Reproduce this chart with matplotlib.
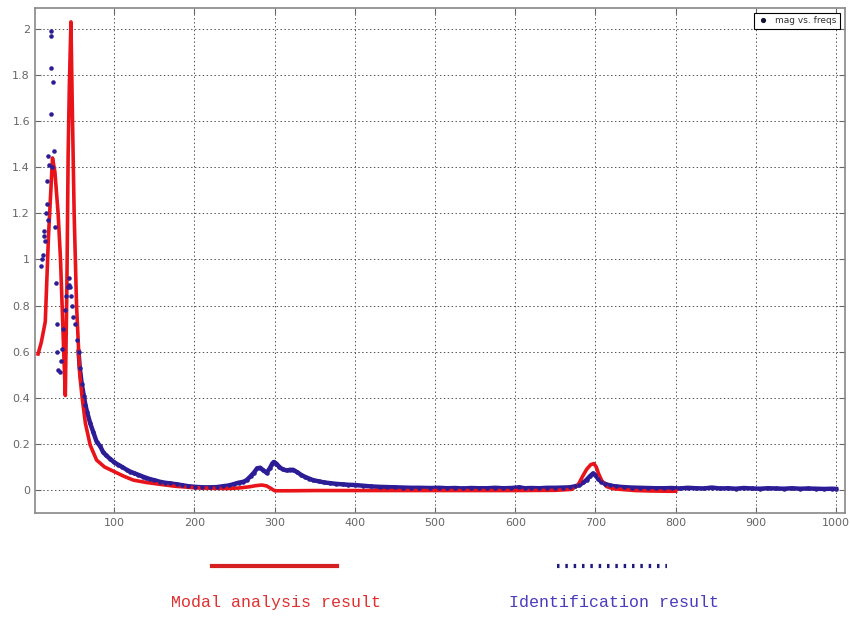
"""
Modal analysis vs identification result: magnitude over frequency.
"""
import numpy as np
import matplotlib
matplotlib.use("Agg")
import matplotlib.pyplot as plt
from matplotlib.lines import Line2D

# ---------------------------------------------------------------------------
# Data
# ---------------------------------------------------------------------------
modal_freq = [5, 9, 14, 18, 23, 26, 30, 33, 35, 37, 39, 41, 42.5, 44, 46,
              47.5, 50, 53, 55, 57, 60, 64, 70, 78, 88, 100, 112, 124, 140,
              157, 175, 200, 220, 240, 255, 268, 276, 284, 290, 295, 300, 320,
              350, 400, 450, 500, 550, 600, 650, 670, 678, 684, 689, 694, 698,
              701, 704, 708, 714, 722, 735, 750, 770, 790, 800]
modal_mag = [0.59, 0.64, 0.73, 1.10, 1.44, 1.38, 1.20, 1.00, 0.80, 0.60,
             0.41, 0.90, 1.45, 1.75, 2.03, 1.70, 1.20, 0.80, 0.65, 0.50,
             0.40, 0.29, 0.195, 0.13, 0.10, 0.08, 0.06, 0.043, 0.033, 0.025,
             0.017, 0.010, 0.008, 0.007, 0.009, 0.014, 0.019, 0.022, 0.018,
             0.008, -0.003, -0.003, -0.002, -0.002, -0.002, -0.002, -0.002,
             -0.002, -0.001, 0.003, 0.02, 0.06, 0.09, 0.11, 0.115, 0.10, 0.07,
             0.04, 0.015, 0.006, 0.002, -0.002, -0.004, -0.005, -0.005]

ident_freq = [9, 10, 11, 12, 12.5, 14, 15, 16, 16.5, 18, 18, 19, 21, 21.4,
              21.4, 21.6, 23, 23.5, 25, 26.4, 27, 28.5, 29, 30, 32, 33.5, 35,
              36.5, 38, 40, 42, 43, 44, 45, 46, 47, 49, 51, 53.5,
              55.5, 57, 59.5, 62, 64, 66, 70, 74, 78, 82.5, 86, 90, 95, 100,
              105, 110, 116, 120, 125, 130, 136, 140, 145, 150, 157, 163, 170,
              178, 185, 192, 201, 210, 220, 228, 236, 243, 249, 255, 261, 265,
              270, 274, 278, 282, 286, 290, 294, 297, 299, 302, 306, 310, 315,
              319, 323, 328, 333, 338, 343, 348, 355, 362, 369, 377, 385, 392,
              400, 410, 420, 431, 440, 450, 460, 470, 480, 494, 505, 515, 525,
              535, 545, 555, 565, 575, 585, 595, 605, 612, 620, 630, 640, 650,
              660, 668, 674, 680, 685, 689, 693, 697, 700, 703, 707, 712, 718,
              725, 735, 745, 755, 765, 775, 785, 795, 805, 815, 825, 835, 845,
              855, 865, 875, 885, 895, 905, 915, 925, 935, 945, 955, 965, 975,
              985, 995, 1000]
ident_mag = [0.97, 1.00, 1.02, 1.10, 1.125, 1.08, 1.20, 1.24, 1.34, 1.17,
             1.45, 1.41, 1.63, 1.83, 1.97, 1.99, 1.40, 1.77, 1.47, 1.14, 0.90,
             0.72, 0.60, 0.52, 0.51, 0.56, 0.61, 0.70, 0.78, 0.84, 0.88, 0.92,
             0.89, 0.88, 0.84, 0.80, 0.75, 0.72, 0.65,
             0.60, 0.53, 0.46, 0.41, 0.37, 0.34, 0.29, 0.25, 0.21, 0.19, 0.165,
             0.15, 0.135, 0.12, 0.11, 0.10, 0.087, 0.08, 0.073, 0.066, 0.058,
             0.053, 0.047, 0.043, 0.036, 0.032, 0.029, 0.025, 0.021, 0.017,
             0.014, 0.012, 0.012, 0.013, 0.017, 0.020, 0.026, 0.032, 0.036,
             0.043, 0.060, 0.075, 0.094, 0.097, 0.085, 0.075, 0.095, 0.115,
             0.122, 0.115, 0.100, 0.090, 0.085, 0.088, 0.088, 0.078, 0.066,
             0.057, 0.050, 0.043, 0.038, 0.033, 0.030, 0.027, 0.025, 0.023,
             0.022, 0.019, 0.016, 0.014, 0.013, 0.012, 0.011, 0.010, 0.010,
             0.009, 0.010, 0.008, 0.009, 0.007, 0.009, 0.008, 0.008, 0.010,
             0.008, 0.009, 0.012, 0.008, 0.009, 0.008, 0.010, 0.010, 0.011,
             0.012, 0.016, 0.022, 0.033, 0.045, 0.060, 0.072, 0.065, 0.050,
             0.037, 0.027, 0.020, 0.016, 0.013, 0.011, 0.010, 0.009, 0.008,
             0.008, 0.009, 0.007, 0.010, 0.008, 0.007, 0.011, 0.007, 0.008,
             0.006, 0.009, 0.007, 0.006, 0.008, 0.007, 0.006, 0.008, 0.006,
             0.007, 0.006, 0.005, 0.006, 0.005]

x_ticks = [100, 200, 300, 400, 500, 600, 700, 800, 900, 1000]
y_ticks = [0, 0.2, 0.4, 0.6, 0.8, 1, 1.2, 1.4, 1.6, 1.8, 2]
y_tick_labels = ["0", "0.2", "0.4", "0.6", "0.8", "1", "1.2", "1.4", "1.6",
                 "1.8", "2"]

RED = "#e8141a"
BLUE = "#2c1c96"

# ---------------------------------------------------------------------------
# Figure
# ---------------------------------------------------------------------------
fig = plt.figure(figsize=(8.5, 6.19), dpi=100)
ax = fig.add_axes([0.041, 0.171, 0.953, 0.816])

ax.plot(modal_freq, modal_mag, color=RED, lw=2.6, zorder=3)

f = np.array(ident_freq)
m = np.array(ident_mag)
tail = f >= 55
ax.plot(f[tail], m[tail], color=BLUE, lw=3.2, zorder=2)
ax.plot(f, m, ".", color=BLUE, ms=4.5, zorder=4, label="mag vs. freqs")

ax.set_xlim(1, 1011)
ax.set_ylim(-0.1, 2.09)
ax.set_xticks(x_ticks)
ax.set_yticks(y_ticks)
ax.set_yticklabels(y_tick_labels)
ax.tick_params(direction="in", length=4, labelsize=8, colors="#666666",
               top=True, right=True)
ax.grid(True, linestyle=(0, (1.5, 2.5)), color="#555555", linewidth=0.7)
for s in ax.spines.values():
    s.set_color("#888888")
    s.set_linewidth(1.2)

leg = ax.legend(loc="upper right", fontsize=6.5, fancybox=False,
                framealpha=1, edgecolor="black", borderaxespad=0.5,
                handlelength=1.2, markerscale=1.2)
leg.get_frame().set_linewidth(0.8)
leg.legend_handles[0].set_color("#111133")
for t in leg.get_texts():
    t.set_color("#333333")

# Annotation legend below the axes
fig.add_artist(Line2D([0.249, 0.396], [0.0856, 0.0856], color="#d42020",
                      lw=3, transform=fig.transFigure))
fig.add_artist(Line2D([0.655, 0.785], [0.0856, 0.0856], color="#1e1a80",
                      lw=3, linestyle=(0, (0.6, 1.4)),
                      transform=fig.transFigure))
fig.text(0.325, 0.026, "Modal analysis result", color="#e03030",
         family="Liberation Mono", fontsize=12, ha="center", va="center")
fig.text(0.722, 0.026, "Identification result", color="#4a3ac0",
         family="Liberation Mono", fontsize=12, ha="center", va="center")

fig.savefig("out.png", dpi=100)
